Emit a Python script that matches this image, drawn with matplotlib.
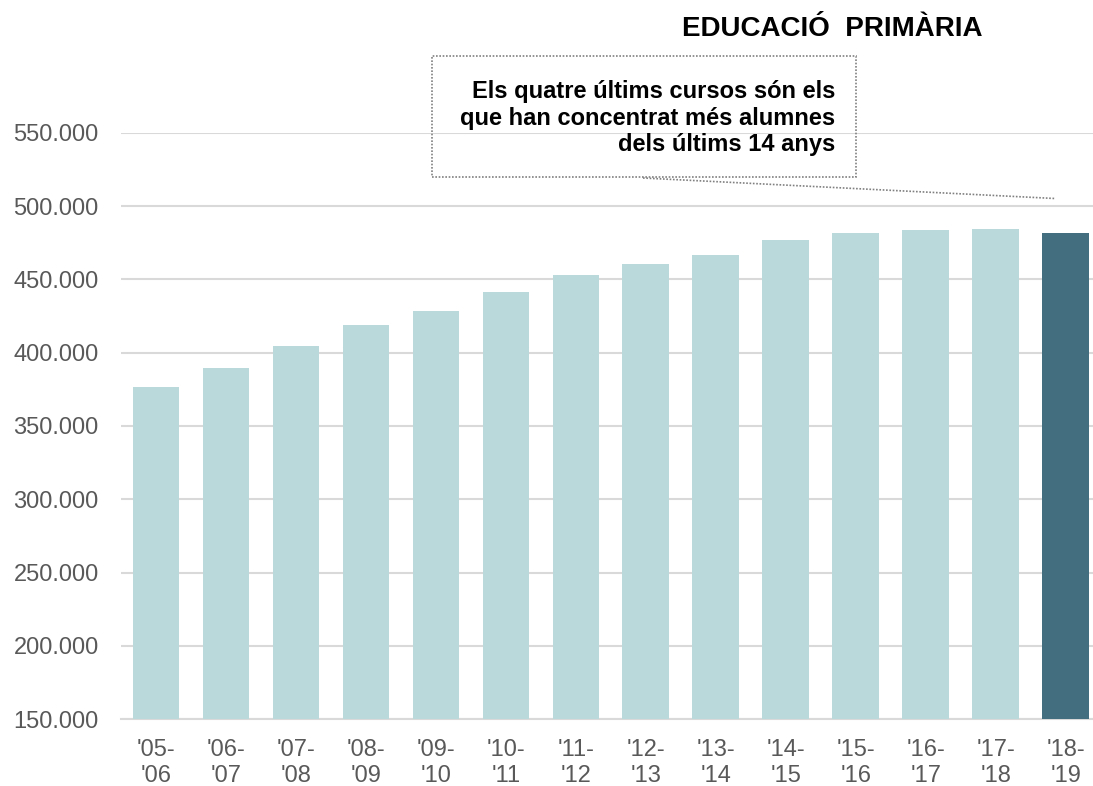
import matplotlib
matplotlib.use('Agg')
import matplotlib.pyplot as plt
from matplotlib.ticker import FuncFormatter

plt.rcParams['font.family'] = ['Liberation Sans', 'DejaVu Sans']

# dades: alumnes d'educació primària per curs
cursos = ["'05-\n'06", "'06-\n'07", "'07-\n'08", "'08-\n'09", "'09-\n'10",
          "'10-\n'11", "'11-\n'12", "'12-\n'13", "'13-\n'14", "'14-\n'15",
          "'15-\n'16", "'16-\n'17", "'17-\n'18", "'18-\n'19"]
alumnes = [376500, 389800, 404400, 418900, 428700, 441500, 453100,
           460600, 466700, 476700, 481900, 483800, 484400, 481700]
y_ticks = [150000, 200000, 250000, 300000, 350000, 400000, 450000, 500000, 550000]

clar = '#b9d9db'
fosc = '#426e80'
colors = [clar] * (len(alumnes) - 1) + [fosc]

fig = plt.figure(figsize=(10.93, 7.86), dpi=100)
ax = fig.add_axes([0.1107, 0.0849, 0.8893, 0.7463])

x = range(len(cursos))
ax.bar(x, alumnes, width=0.667, color=colors, zorder=3)

ax.set_ylim(150000, 550000)
ax.set_xlim(-0.5, 13.39)
ax.set_yticks(y_ticks)
ax.yaxis.set_major_formatter(FuncFormatter(lambda v, p: f'{int(v):,}'.replace(',', '.')))
ax.set_xticks(list(x))
ax.set_xticklabels(cursos, linespacing=1.25)

ax.grid(axis='y', color='#d9d9d9', linewidth=1.5, zorder=0)
for s in ['top', 'right', 'left']:
    ax.spines[s].set_visible(False)
ax.spines['bottom'].set_color('#d9d9d9')
ax.spines['bottom'].set_linewidth(1.5)
ax.tick_params(axis='both', length=0, labelsize=17, labelcolor='#595959')
ax.tick_params(axis='y', pad=16)
ax.tick_params(axis='x', pad=14)

# títol
fig.text(982 / 1093, 1 - 36 / 786, 'EDUCACIÓ  PRIMÀRIA', ha='right', va='baseline',
         fontsize=20, fontweight='bold', color='black')

# quadre de comentari
box = plt.Rectangle((431.7 / 1093, 1 - 176.7 / 786), (855.7 - 431.7) / 1093, (176.7 - 56) / 786,
                    transform=fig.transFigure, fill=False, edgecolor='#808080',
                    linestyle=(0, (1, 1)), linewidth=1.2)
fig.add_artist(box)
fig.text(835 / 1093, 1 - 118 / 786,
         'Els quatre últims cursos són els\nque han concentrat més alumnes\ndels últims 14 anys',
         ha='right', va='center', fontsize=17, fontweight='bold', color='black',
         linespacing=1.2)
fig.add_artist(plt.Line2D([643 / 1093, 1055 / 1093], [1 - 178 / 786, 1 - 198.5 / 786],
                          transform=fig.transFigure, color='#808080',
                          linestyle=(0, (1, 1)), linewidth=1.2))

plt.savefig('out.png', dpi=100)
